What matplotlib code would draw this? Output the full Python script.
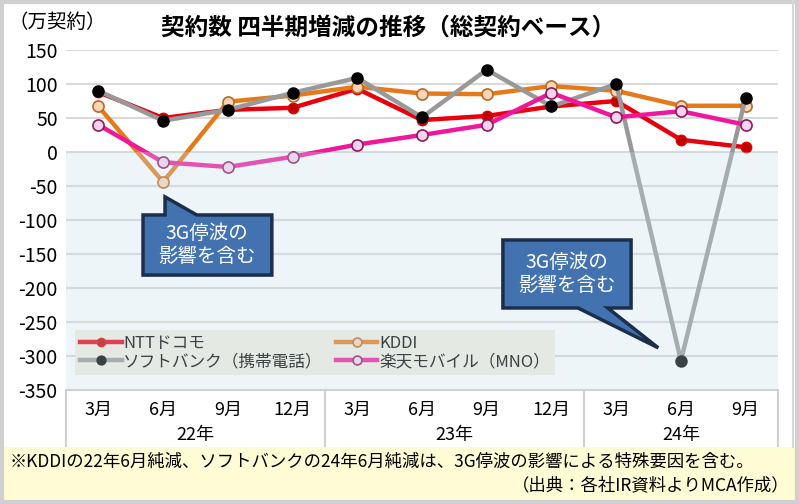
import matplotlib
matplotlib.use("Agg")
import matplotlib.pyplot as plt
import matplotlib.patches as patches
import matplotlib.transforms as mtransforms

plt.rcParams['font.family'] = ['Noto Sans CJK JP', 'DejaVu Sans']

# quarters
months = ['3月', '6月', '9月', '12月', '3月', '6月', '9月', '12月', '3月', '6月', '9月']
years = ['22年', '23年', '24年']
year_centers = [1.5, 5.5, 9.0]
separators = [-0.5, 3.5, 7.5, 10.5]

# net adds per quarter (10k contracts)
docomo = [88, 50, 62, 65, 93, 47, 53, 67, 75, 18, 7]
kddi = [67, -44, 74, 83, 96, 86, 85, 97, 90, 68, 68]
softbank = [90, 46, 62, 87, 109, 51, 121, 67, 100, -307, 80]
rakuten = [40, -15, -22, -7, 11, 25, 40, 87, 51, 60, 40]

yticks = [150, 100, 50, 0, -50, -100, -150, -200, -250, -300, -350]

fig = plt.figure(figsize=(7.99, 5.04), dpi=100)
ax = fig.add_axes([66 / 799, 114 / 504, 712 / 799, 340 / 504])
x = list(range(len(months)))

l1, = ax.plot(x, docomo, color='#e8000f', lw=3.2, marker='o', ms=7.5,
              mfc='#c00000', mec='#e00000', label='NTTドコモ', zorder=3)
l2, = ax.plot(x, kddi, color='#e67a1a', lw=3.2, marker='o', ms=8,
              mfc='#fcd5b4', mec='#b8692a', mew=1.2, label='KDDI', zorder=3.1)
l3, = ax.plot(x, softbank, color='#999999', lw=3.2, marker='o', ms=8,
              mfc='black', mec='black', label='ソフトバンク（携帯電話）', zorder=3.2)
l4, = ax.plot(x, rakuten, color='#f0189a', lw=3.2, marker='o', ms=8,
              mfc='#f9d2ef', mec='#8c1a5c', mew=1.2, label='楽天モバイル（MNO）', zorder=3.3)

ax.set_xlim(-0.5, 10.5)
ax.set_ylim(-350, 150)
ax.set_yticks(yticks)
ax.set_yticklabels([str(v) for v in yticks], fontsize=14)
ax.set_xticks(x)
ax.set_xticklabels(months, fontsize=13)
ax.tick_params(length=0)
ax.tick_params(axis='x', pad=8)
ax.tick_params(axis='y', pad=6)
ax.grid(axis='y', color='#d9d9d9', lw=1.5, zorder=1)
ax.set_axisbelow(True)
for s in ['top', 'left', 'right']:
    ax.spines[s].set_visible(False)
ax.spines['bottom'].set_color('#d0d0d0')
ax.spines['bottom'].set_linewidth(1.5)

leg = ax.legend(handles=[l1, l3, l2, l4], loc='lower left',
                bbox_to_anchor=(0.0126, 0.044, 0.674, 0.156),
                mode='expand', ncol=2, fontsize=12, frameon=True, fancybox=False,
                handlelength=2.5, handletextpad=0.1, borderaxespad=0,
                labelspacing=0.05, borderpad=0.3, columnspacing=0.8, markerscale=0.8)
leg.get_frame().set_facecolor('#f2eee2')
leg.get_frame().set_edgecolor('none')
leg.get_frame().set_alpha(1)
leg.set_zorder(5)

# pale overlay on the negative region
ax.axhspan(-350, 0, color='#c6dee8', alpha=0.3, lw=0, zorder=6)

# year labels and separators below the axis
trans = mtransforms.blended_transform_factory(ax.transData, ax.transAxes)
for xc, yr in zip(year_centers, years):
    ax.text(xc, -0.133, yr, transform=trans, ha='center', va='center', fontsize=13)
for sx in separators:
    ax.plot([sx, sx], [0, -0.165], transform=trans, color='#d0d0d0', lw=1.5,
            clip_on=False)

# callouts
def callout(pts, tx, ty):
    poly = patches.Polygon(pts, closed=True, facecolor='#4272b0', edgecolor='#1c2f4a',
                           lw=2.5, joinstyle='miter', zorder=7)
    ax.add_patch(poly)
    ax.text(tx, ty, '3G停波の\n影響を含む', color='white', fontsize=14,
            ha='center', va='center', linespacing=1.15, zorder=8)

callout([(0.69, -92.6), (1.03, -92.6), (1.03, -66), (1.52, -92.6), (2.68, -92.6),
         (2.68, -181), (0.69, -181)], 1.68, -137)
callout([(6.25, -129.4), (8.23, -129.4), (8.23, -229.4), (7.87, -229.4),
         (8.65, -288), (7.41, -229.4), (6.25, -229.4)], 7.24, -179)

# titles
fig.text(388 / 799, 1 - 28 / 504, '契約数 四半期増減の推移（総契約ベース）',
         ha='center', va='center', fontsize=17, fontweight='bold')
fig.text(8 / 799, 1 - 22 / 504, '（万契約）', ha='left', va='center', fontsize=14)

# note band
fig.patches.append(patches.Rectangle((0, 0), 1, 57 / 504, transform=fig.transFigure,
                                     facecolor='#fdfcd4', edgecolor='none', zorder=0))
fig.text(10 / 799, 1 - 462 / 504,
         '※KDDIの22年6月純減、ソフトバンクの24年6月純減は、3G停波の影響による特殊要因を含む。',
         ha='left', va='center', fontsize=12.5)
fig.text(790 / 799, 1 - 485 / 504, '（出典：各社IR資料よりMCA作成）',
         ha='right', va='center', fontsize=12.5)

# frame
fig.patches.append(patches.Rectangle((0.002, 0.003), 0.996, 0.994, transform=fig.transFigure,
                                     facecolor='none', edgecolor='#d0d0d0', lw=3, zorder=1))
fig.lines.append(plt.Line2D([793 / 799, 793 / 799], [57 / 504, 1], transform=fig.transFigure,
                            color='#d8d8d8', lw=1.5))

fig.savefig('out.png', dpi=100)
